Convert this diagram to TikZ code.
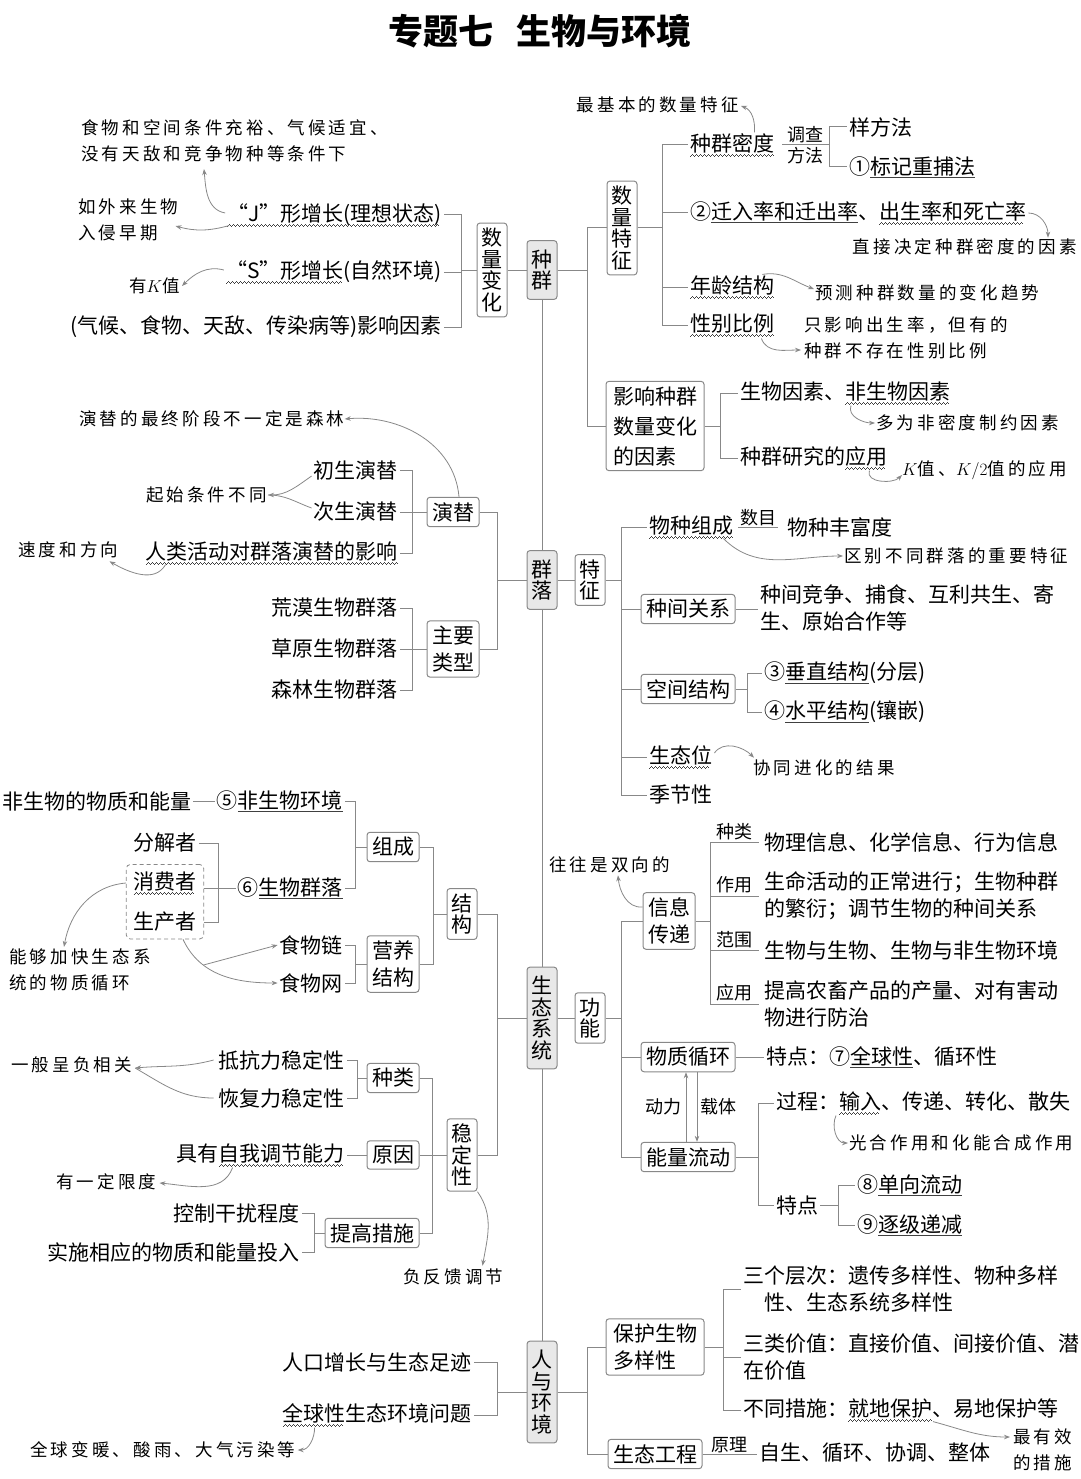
\documentclass[tikz,border=0pt]{standalone}
\usepackage{fontspec}
\setmainfont{Noto Sans CJK SC}
\newfontfamily\notefam{Noto Sans CJK SC}[LetterSpace=18]
\usetikzlibrary{arrows.meta, positioning, calc, fit}
\definecolor{lc}{HTML}{888888}
\definecolor{mf}{HTML}{E8E8E8}
\newcommand{\mainf}{\fontsize{21}{27}\selectfont}
\newcommand{\vertf}{\fontsize{21}{21.5}\selectfont}
\newcommand{\labf}{\fontsize{18}{20}\selectfont}
\newcommand{\notef}{\notefam\fontsize{17.5}{25.5}\selectfont}
% wavy and straight underlines
\newcommand{\wvpiece}{\hbox{\rule[-5pt]{1pt}{0.8pt}\rule[-4.4pt]{1pt}{0.8pt}\rule[-3.8pt]{1pt}{0.8pt}\rule[-4.4pt]{1pt}{0.8pt}}}
\newcommand{\wavy}[1]{\setbox0\hbox{#1}\leavevmode\rlap{\color{black!75}\hbox to\wd0{\leaders\wvpiece\hfil}}\box0}
\newcommand{\uln}[1]{\setbox0\hbox{#1}\leavevmode\rlap{\color{black!75}\rule[-3.5pt]{\wd0}{0.8pt}}\box0}

\begin{document}
\begin{tikzpicture}[x=1pt, y=-1pt,
    >={Stealth[length=6pt, width=4.5pt]},
    ln/.style  ={draw=lc, line width=1pt},
    arr/.style ={->, draw=lc, line width=0.8pt},
    cbox/.style={draw=lc, fill=mf, rounded corners=3pt, line width=1pt,
                 align=center, font=\vertf, inner xsep=4.5pt, inner ysep=9pt},
    vbx/.style ={draw=lc, fill=white, rounded corners=3pt, line width=1pt,
                 align=center, font=\vertf, inner xsep=4.5pt, inner ysep=5pt},
    hbx/.style ={draw=lc, fill=white, rounded corners=3pt, line width=1pt,
                 align=center, font=\mainf, inner xsep=5pt, inner ysep=5pt},
    txt/.style ={inner sep=2pt, font=\mainf, align=left},
    lab/.style ={inner sep=1pt, font=\labf},
    note/.style={inner sep=1pt, font=\notef, align=left},
    ttl/.style ={font=\fontsize{35}{40}\selectfont\bfseries},
    dbx/.style ={draw=lc, dash pattern=on 4pt off 3pt, rounded corners=4pt,
                 line width=0.8pt, inner sep=5pt},
]
\useasboundingbox (0,0) rectangle (1080,1479);
\node[ttl] (title) at (540,31) {专题七\hspace{0.65em}生物与环境};

% spine
\node[cbox] (zq) at (542,270) {种\\群};
\node[cbox] (ql) at (542,580) {群\\落};
\node[cbox] (st) at (542,1018) {生\\态\\系\\统};
\node[cbox] (rh) at (542,1392) {人\\与\\环\\境};
\draw[ln] (zq) -- (ql) -- (st) -- (rh);

% ---- zhongqun: shuliang bianhua
\node[vbx] (slbh) at (492,270) {数\\量\\变\\化};
\draw[ln] (zq) -- (slbh);
\node[txt, anchor=east] (jx) at (444,215) {\wavy{“J”形增长(理想状态)}};
\node[txt, anchor=east] (sx) at (444,272) {\wavy{“S”形增长}(自然环境)};
\node[txt, anchor=east] (yx) at (444,327) {(气候、食物、天敌、传染病等)影响因素};
\draw[ln] (slbh.west) -- ++(-15,0) coordinate (bslbh);
\foreach \n in {jx,sx,yx} \draw[ln] (\n.east) -| (bslbh);
\node[note, anchor=west] (nJa) at (80,141) {食物和空间条件充裕、气候适宜、\\没有天敌和竞争物种等条件下};
\node[note, anchor=west] (nJb) at (77,220) {如外来生物\\入侵早期};
\node[note, anchor=east] (nS) at (181,286) {有$K$值};
\draw[arr] ($(jx.west)+(0,-2)$) to[out=170, in=-85] ($(nJa.south west)+(124,6)$);
\draw[arr] ($(jx.south west)+(4,-3)$) to[out=195, in=-15] ($(nJb.east)+(-4,6)$);
\draw[arr] ($(sx.west)+(0,-2)$) to[out=165, in=45] ($(nS.east)+(1,0)$);

% ---- zhongqun: shuliang tezheng
\node[vbx] (slzt) at (622,228) {数\\量\\特\\征};
\node[hbx, align=left, inner xsep=7pt] (yxys) at (655,426) {影响种群\\[3pt]数量变化\\[3pt]的因素};
\draw[ln] (zq.east) -- ++(30,0) coordinate (bzq);
\draw[ln] (bzq) |- (slzt.west);
\draw[ln] (bzq) |- (yxys.west);
\node[txt, anchor=west] (zqmd) at (688,145) {\wavy{种群密度}};
\node[txt, anchor=west] (qrl) at (688,213) {②\uln{迁入率和迁出率}、\wavy{出生率和死亡率}};
\node[txt, anchor=west] (nljg) at (688,287) {\wavy{年龄结构}};
\node[txt, anchor=west] (xbbl) at (688,325) {\wavy{性别比例}};
\draw[ln] (slzt.east) -- ++(25,0) coordinate (bslzt);
\foreach \n in {zqmd,qrl,nljg,xbbl} \draw[ln] (bslzt) |- (\n.west);
\draw[ln] ([xshift=6]zqmd.east) -- ++(47,0) coordinate (bdc)
  node[lab, midway, above=1pt] {调查} node[lab, midway, below=1pt] {方法};
\node[txt, anchor=west] (yff) at (847,127) {样方法};
\node[txt, anchor=west] (bjcb) at (847,167) {①\uln{标记重捕法}};
\draw[ln] (bdc) |- (yff.west);
\draw[ln] (bdc) |- (bjcb.west);
\node[note, anchor=east] (nmd) at (740,105) {最基本的数量特征};
\draw[arr] ($(zqmd.north east)+(-22,1)$) to[out=85, in=-20] ($(nmd.east)+(1,1)$);
\node[note, anchor=east] (nzj) at (1078,247) {直接决定种群密度的因素};
\draw[arr] (qrl.east) to[out=0, in=90] ($(nzj.north east)+(-30,0)$);
\node[note, anchor=west] (nyc) at (814,293) {预测种群数量的变化趋势};
\draw[arr] ($(nljg.north east)+(-14,1)$) to[out=10, in=160] ($(nyc.west)+(0,-4)$);
\node[note, anchor=west] (nxb) at (803,338) {只影响出生率，但有的\\种群不存在性别比例};
\draw[arr] ($(xbbl.south east)+(-15,0)$) to[out=-70, in=180] ($(nxb.west)+(-2,12)$);

% yingxiang yinsu
\node[txt, anchor=west] (swys) at (738,393) {生物因素、\wavy{非生物因素}};
\node[txt, anchor=west] (yjyy) at (738,458) {种群研究的\wavy{应用}};
\draw[ln] (yxys.east) -- ++(16,0) coordinate (byx);
\foreach \n in {swys,yjyy} \draw[ln] (byx) |- (\n.west);
\node[note, anchor=west] (nfm) at (875,423) {多为非密度制约因素};
\draw[arr] ($(swys.south west)+(113,-1)$) to[out=-110, in=180] (nfm.west);
\node[note, anchor=west] (nK) at (901,470) {$K$值、$K/2$值的应用};
\draw[arr] ($(yjyy.south east)+(-20,-1)$) to[out=-110, in=-135] ($(nK.west)+(1,5)$);

% ---- qunluo left
\node[hbx] (yt) at (453,512) {演替};
\node[hbx] (zylx) at (453,649) {主要\\类型};
\draw[ln] (ql.west) -- ++(-29,0) coordinate (bql);
\draw[ln] (bql) |- (yt.east);
\draw[ln] (bql) |- (zylx.east);
\node[txt, anchor=east] (csyt) at (400,470) {初生演替};
\node[txt, anchor=east] (ccyt) at (400,512) {次生演替};
\node[txt, anchor=east] (rlhd) at (400,553) {\wavy{人类活动对群落演替的影响}};
\draw[ln] (yt.west) -- ++(-14,0) coordinate (byt);
\foreach \n in {csyt,ccyt,rlhd} \draw[ln] (\n.east) -| (byt);
\node[note, anchor=west] (nzz) at (78,419) {演替的最终阶段不一定是森林};
\draw[arr] ($(yt.north)+(6,0)$) to[out=95, in=5] ($(nzz.east)+(-1,0)$);
\node[note, anchor=east] (nqs) at (268,495) {起始条件不同};
\draw[arr] ($(csyt.west)+(0,6)$) to[out=215, in=0] (nqs.east);
\draw[ln, line width=0.8pt] ($(ccyt.west)+(0,-4)$) to[out=160, in=0] (nqs.east);
\node[note, anchor=west] (nsd) at (17,550) {速度和方向};
\draw[arr] ($(rlhd.south west)+(22,-2)$) to[out=-120, in=-30] ($(nsd.south east)+(-10,2)$);
\node[txt, anchor=east] (hmsw) at (400,608) {荒漠生物群落};
\node[txt, anchor=east] (cysw) at (400,649) {草原生物群落};
\node[txt, anchor=east] (slsw) at (400,690) {森林生物群落};
\draw[ln] (zylx.west) -- ++(-14,0) coordinate (bzy);
\foreach \n in {hmsw,cysw,slsw} \draw[ln] (\n.east) -| (bzy);

% ---- qunluo right
\node[vbx] (tz) at (590,580) {特\\征};
\draw[ln] (ql) -- (tz);
\draw[ln] (tz.east) -- ++(16,0) coordinate (btz);
\node[txt, anchor=west] (wzzc) at (647,527) {\wavy{物种组成}};
\node[hbx] (zjgx) at (688,609) {种间关系};
\node[hbx] (kjjg) at (688,689) {空间结构};
\node[txt, anchor=west] (stw) at (647,757) {\wavy{生态位}};
\node[txt, anchor=west] (jjx) at (647,795) {季节性};
\foreach \n in {wzzc,zjgx,kjjg,stw,jjx} \draw[ln] (btz) |- (\n.west);
\node[txt, anchor=west] (wzfd) at (785,527) {物种丰富度};
\draw[ln] ([xshift=3]wzzc.east) -- ([xshift=-7]wzfd.west) node[lab, midway, above=0pt] {数目};
\node[note, anchor=west] (nqb) at (843,556) {区别不同群落的重要特征};
\draw[arr] ($(wzzc.south east)+(-12,-2)$) to[out=-45, in=180] (nqb.west);
\node[txt, anchor=west] (zjjz) at (758,608) {种间竞争、捕食、互利共生、寄\\生、原始合作等};
\draw[ln] (zjgx.east) -- (zjgx.east -| zjjz.west);
\node[txt, anchor=west] (czjg) at (762,673) {③\uln{垂直结构}(分层)};
\node[txt, anchor=west] (spjg) at (762,712) {④\uln{水平结构}(镶嵌)};
\draw[ln] (kjjg.east) -- ++(12,0) coordinate (bkj);
\foreach \n in {czjg,spjg} \draw[ln] (bkj) |- (\n.west);
\node[note, anchor=west] (nxt) at (752,768) {协同进化的结果};
\draw[arr] ($(stw.east)+(0,-4)$) to[out=55, in=135] ($(nxt.north west)+(2,-1)$);

% ---- shengtai xitong left
\node[vbx] (jg) at (462,914) {结\\构};
\node[vbx] (wdx) at (462,1155) {稳\\定\\性};
\draw[ln] (st.west) -- ++(-29,0) coordinate (bst);
\draw[ln] (bst) |- (jg.east);
\draw[ln] (bst) |- (wdx.east);
\node[hbx] (zc) at (393,847) {组成};
\node[hbx] (yyjg) at (393,964) {营养\\结构};
\draw[ln] (jg.west) -- ++(-13,0) coordinate (bjg);
\foreach \n in {zc,yyjg} \draw[ln] (\n.east) -| (bjg);
\node[txt, anchor=east] (fswhj) at (345,801) {⑤\uln{非生物环境}};
\node[txt, anchor=east] (swqlc) at (345,888) {⑥\uln{生物群落}};
\draw[ln] (zc.west) -- ++(-11,0) coordinate (bzc);
\foreach \n in {fswhj,swqlc} \draw[ln] (\n.east) -| (bzc);
\node[txt, anchor=west] (fsw) at (0,801) {非生物的物质和能量};
\draw[ln] (fsw) -- (fswhj);
\node[txt, anchor=east] (fjz) at (199,843) {分解者};
\node[txt] (xfz) at (165,883) {\wavy{消费者}};
\node[txt] (scz) at (165,922) {生产者};
\node[dbx, fit=(xfz)(scz)] (dbox) {};
\draw[ln] (swqlc.west) -- (swqlc.west -| dbox.east);
\draw[ln] (fjz.east) -| ($(swqlc.west)+(-17,0)$) |- (scz.east -| dbox.east);
\node[note, anchor=west] (nnj) at (8,970) {能够加快生态系\\统的物质循环};
\draw[arr] (xfz.west -| dbox.west) to[out=185, in=80] ($(nnj.north west)+(56,-1)$);
\node[txt, anchor=east] (swl) at (345,945) {食物链};
\node[txt, anchor=east] (sww) at (345,983) {食物网};
\draw[ln] (yyjg.west) -- ++(-11,0) coordinate (byy);
\foreach \n in {swl,sww} \draw[ln] (\n.east) -| (byy);
\draw[arr] ($(dbox.south)+(18,0)$) to[out=-65, in=180] coordinate[pos=0.3] (mfd) (sww.west);
\draw[arr] (mfd) to[out=15, in=195] (swl.west);

% wendingxing
\node[hbx] (zl) at (393,1078) {种类};
\node[hbx] (yyn) at (393,1155) {原因};
\node[hbx] (tgcs) at (372,1233) {提高措施};
\draw[ln] (wdx.west) -- ++(-14,0) coordinate (bwd);
\foreach \n in {zl,yyn,tgcs} \draw[ln] (\n.east) -| (bwd);
\node[txt, anchor=east] (dkl) at (347,1060) {抵抗力稳定性};
\node[txt, anchor=east] (hfl) at (347,1098) {恢复力稳定性};
\draw[ln] (zl.west) -- ++(-9,0) coordinate (bzl);
\foreach \n in {dkl,hfl} \draw[ln] (\n.east) -| (bzl);
\node[note, anchor=west] (nfx) at (10,1065) {一般呈负相关};
\draw[arr] ($(dkl.west)+(-3,0)$) to[out=195, in=5] ($(nfx.east)+(2,3)$);
\draw[ln, line width=0.8pt] ($(hfl.west)+(-3,0)$) to[out=180, in=-30] ($(nfx.east)+(2,3)$);
\node[txt, anchor=east] (zyts) at (347,1155) {具有\wavy{自我调节能力}};
\draw[ln] (zyts) -- (yyn);
\node[note, anchor=west] (nyd) at (55,1182) {有一定限度};
\draw[arr] ($(zyts.south west)+(58,-1)$) to[out=-110, in=-5] ($(nyd.east)+(2,1)$);
\node[txt, anchor=east] (kzgr) at (302,1213) {控制干扰程度};
\node[txt, anchor=east] (ssxy) at (302,1252) {实施相应的物质和能量投入};
\draw[ln] (tgcs.west) -- ++(-10,0) coordinate (btg);
\foreach \n in {kzgr,ssxy} \draw[ln] (\n.east) -| (btg);
\node[note, anchor=west] (nfk) at (402,1277) {负反馈调节};
\draw[arr] (wdx.south east) to[out=-55, in=80] ($(nfk.north east)+(-22,-2)$);

% ---- shengtai xitong right
\node[vbx] (gn) at (590,1018) {功\\能};
\draw[ln] (st) -- (gn);
\node[hbx] (xxcd) at (669,921) {信息\\传递};
\node[hbx] (wzxh) at (688,1057) {物质循环};
\node[hbx] (nlld) at (688,1157) {能量流动};
\draw[ln] (gn.east) -- ++(16,0) coordinate (bgn);
\foreach \n in {xxcd,wzxh,nlld} \draw[ln] (bgn) |- (\n.west);
\node[txt, anchor=west] (xzl) at (762,842) {物理信息、化学信息、行为信息};
\node[txt, anchor=west] (xzy) at (762,896) {生命活动的正常进行；生物种群\\的繁衍；调节生物的种间关系};
\node[txt, anchor=west] (xfw) at (762,950) {生物与生物、生物与非生物环境};
\node[txt, anchor=west] (xyy) at (762,1004) {提高农畜产品的产量、对有害动\\物进行防治};
\draw[ln] (xxcd.east) -- ++(15,0) coordinate (bxx);
\foreach \n/\l in {xzl/种类, xzy/作用, xfw/范围, xyy/应用}
  \draw[ln] (bxx) |- ([xshift=-3]\n.west) node[lab, pos=0.75, above=1pt] {\l};
\node[note, anchor=west] (nsx) at (548,865) {往往是双向的};
\draw[arr] ($(xxcd.west)+(0,-14)$) to[out=185, in=-85] ($(nsx.south west)+(70,1)$);
\node[txt, anchor=west] (wxtd) at (764,1057) {特点：⑦\uln{全球性}、循环性};
\draw[ln] (wzxh.east) -- (wzxh.east -| wxtd.west);
\draw[arr] ([xshift=-2]nlld.north) -- ([xshift=-2]wzxh.south) node[lab, midway, left=3pt] {动力};
\draw[arr] ([xshift=9]wzxh.south) -- ([xshift=9]nlld.north) node[lab, midway, right=2pt] {载体};
\node[txt, anchor=west] (gcn) at (774,1103) {过程：\wavy{输入}、传递、转化、散失};
\node[txt, anchor=west] (tdn) at (774,1205) {特点};
\draw[ln] (nlld.east) -- ++(23,0) coordinate (bnl);
\foreach \n in {gcn,tdn} \draw[ln] (bnl) |- (\n.west);
\node[note, anchor=west] (ngh) at (848,1143) {光合作用和化能合成作用};
\draw[arr] ($(gcn.south west)+(62,-1)$) to[out=-115, in=180] (ngh.west);
\node[txt, anchor=west] (dxld) at (855,1185) {⑧\uln{单向流动}};
\node[txt, anchor=west] (zjdj) at (855,1225) {⑨\uln{逐级递减}};
\draw[ln] (tdn.east) -- ++(18,0) coordinate (btd);
\foreach \n in {dxld,zjdj} \draw[ln] (btd) |- (\n.west);

% ---- ren yu huanjing
\node[txt, anchor=east] (rkzz) at (474,1362) {人口增长与生态足迹};
\node[txt, anchor=east] (qqx) at (474,1415) {\wavy{全球性}生态环境问题};
\draw[ln] (rh.west) -- ++(-29,0) coordinate (brh);
\foreach \n in {rkzz,qqx} \draw[ln] (\n.east) -| (brh);
\node[note, anchor=west] (nqq) at (29,1450) {全球变暖、酸雨、大气污染等};
\draw[arr] ($(qqx.south west)+(34,-1)$) to[out=-90, in=0] ($(nqq.east)+(1,0)$);
\node[hbx, align=left, inner xsep=7pt] (bhsw) at (655,1347) {保护生物\\多样性};
\node[hbx] (stgc) at (655,1454) {生态工程};
\draw[ln] (rh.east) -- ++(30,0) coordinate (brr);
\foreach \n in {bhsw,stgc} \draw[ln] (brr) |- (\n.west);
\node[txt, anchor=west] (sgcc) at (741,1289) {三个层次：遗传多样性、物种多样\\\hspace*{1em}性、生态系统多样性};
\node[txt, anchor=west] (sljz) at (741,1357) {三类价值：直接价值、间接价值、潜\\在价值};
\node[txt, anchor=west] (btcs) at (741,1410) {不同措施：\wavy{就地保护}、易地保护等};
\draw[ln] (bhsw.east) -- ++(19,0) coordinate (bbh);
\foreach \n in {sgcc,sljz,btcs} \draw[ln] (bbh) |- (\n.west);
\node[note, anchor=west] (nyx) at (1012,1450) {最有效\\的措施};
\draw[arr] ($(btcs.south west)+(192,-2)$) to[out=-15, in=180] ($(nyx.west)+(-2,-13)$);
\node[txt, anchor=west] (zsxt) at (757,1453) {自生、循环、协调、整体};
\draw[ln] (stgc.east) -- (stgc.east -| zsxt.west) node[lab, midway, above=0pt] {原理};
\end{tikzpicture}
\end{document}
